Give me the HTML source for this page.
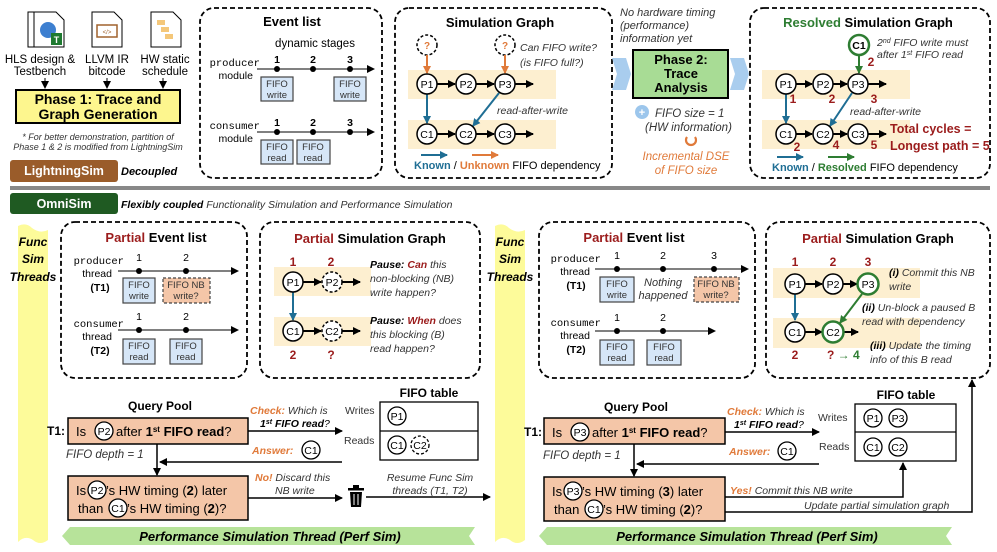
<!DOCTYPE html>
<html><head><meta charset="utf-8"><style>
html,body{margin:0;padding:0;background:#fff}
svg{display:block;font-family:"Liberation Sans",sans-serif}
.m{font-family:"Liberation Mono",monospace}
.i{font-style:italic}.b{font-weight:bold}
.r{fill:#9b1c1c}.o{fill:#e07a3a}.g{fill:#2e7d32}.bl{fill:#1f6e94}
</style></head><body>
<svg width="997" height="552" viewBox="0 0 997 552" xmlns="http://www.w3.org/2000/svg">
<defs>
<marker id="ak" markerWidth="8" markerHeight="8" refX="7" refY="4" orient="auto" markerUnits="userSpaceOnUse"><path d="M0,0L8,4L0,8z" fill="#000"/></marker>
<marker id="ab" markerWidth="8" markerHeight="8" refX="7" refY="4" orient="auto" markerUnits="userSpaceOnUse"><path d="M0,0L8,4L0,8z" fill="#1f6e94"/></marker>
<marker id="ao" markerWidth="8" markerHeight="8" refX="7" refY="4" orient="auto" markerUnits="userSpaceOnUse"><path d="M0,0L8,4L0,8z" fill="#e07a3a"/></marker>
<marker id="ag" markerWidth="8" markerHeight="8" refX="7" refY="4" orient="auto" markerUnits="userSpaceOnUse"><path d="M0,0L8,4L0,8z" fill="#2e7d32"/></marker>
</defs>

<!-- icons -->
<g stroke="#000" stroke-width="1" fill="#fff">
<path d="M28,12h22l8,8v27h-30z"/><path d="M34,12h22l8,8v27h-30z"/>
<path d="M92,12h22l8,8v27h-30z"/>
<path d="M151,12h22l8,8v27h-30z"/>
</g>
<circle cx="48" cy="30" r="8" fill="#3d7fd0"/><rect x="51" y="33" width="11" height="12" fill="#1e7a30"/><text x="56.5" y="43" font-size="9" fill="#fff" text-anchor="middle" class="b">T</text>
<rect x="97" y="25" width="20" height="12" fill="#fff" stroke="#a0622d" stroke-width="1.5"/><text x="107" y="34" font-size="6" text-anchor="middle" fill="#a0622d">&lt;/&gt;</text>
<rect x="157" y="20" width="8" height="5" fill="#f4c77a"/><rect x="161" y="27" width="8" height="5" fill="#f4c77a"/><rect x="165" y="34" width="8" height="5" fill="#f4c77a"/>
<g font-size="11.5" text-anchor="middle">
<text x="40" y="63">HLS design &amp;</text><text x="40" y="75">Testbench</text>
<text x="107" y="63">LLVM IR</text><text x="107" y="75">bitcode</text>
<text x="165" y="63">HW static</text><text x="165" y="75">schedule</text>
</g>
<g stroke="#000" stroke-width="1" marker-end="url(#ak)"><line x1="45" y1="78" x2="45" y2="88"/><line x1="107" y1="78" x2="107" y2="88"/><line x1="163" y1="78" x2="163" y2="88"/></g>
<rect x="16" y="90" width="164" height="33" fill="#fdf68e" stroke="#000" stroke-width="2"/>
<text x="98" y="104" font-size="14" class="b" text-anchor="middle">Phase 1: Trace and</text>
<text x="98" y="119" font-size="14" class="b" text-anchor="middle">Graph Generation</text>
<text x="98" y="140" font-size="9" class="i" text-anchor="middle" fill="#333">* For better demonstration, partition of</text>
<text x="98" y="150" font-size="9" class="i" text-anchor="middle" fill="#333">Phase 1 &amp; 2 is modified from LightningSim</text>
<rect x="10" y="160" width="108" height="22" rx="3" fill="#9a5c2a"/>
<text x="64" y="175" font-size="12.5" class="b" fill="#fff" text-anchor="middle">LightningSim</text>
<text x="121" y="175" font-size="11" class="b i">Decoupled</text>
<rect x="10" y="186" width="980" height="4" fill="#888"/>

<!-- Event list -->
<rect x="200" y="8" width="182" height="170" rx="14" fill="none" stroke="#000" stroke-width="1.8" stroke-dasharray="5,3"/>
<text x="292" y="26" font-size="13" class="b" text-anchor="middle">Event list</text>
<text x="315" y="47" font-size="11.5" text-anchor="middle">dynamic stages</text>
<text x="260" y="66" font-size="10.5" class="m" text-anchor="end">producer</text>
<text x="253" y="79" font-size="10.5" text-anchor="end">module</text>
<text x="260" y="129" font-size="10.5" class="m" text-anchor="end">consumer</text>
<text x="253" y="142" font-size="10.5" text-anchor="end">module</text>
<g stroke="#000" marker-end="url(#ak)"><line x1="257" y1="69" x2="374" y2="69"/><line x1="257" y1="132" x2="374" y2="132"/></g>
<g font-size="10.5" class="b" text-anchor="middle"><text x="277" y="63">1</text><text x="313" y="63">2</text><text x="350" y="63">3</text><text x="277" y="126">1</text><text x="313" y="126">2</text><text x="350" y="126">3</text></g>
<g><circle cx="277" cy="69" r="3"/><circle cx="313" cy="69" r="3"/><circle cx="350" cy="69" r="3"/><circle cx="277" cy="132" r="3"/><circle cx="313" cy="132" r="3"/><circle cx="350" cy="132" r="3"/></g>
<g fill="#d6e6f7" stroke="#444" stroke-width="1.2"><rect x="261" y="77" width="32" height="24"/><rect x="334" y="77" width="32" height="24"/><rect x="261" y="140" width="32" height="24"/><rect x="297" y="140" width="33" height="24"/></g>
<g font-size="9.5" text-anchor="middle" fill="#333"><text x="277" y="87">FIFO</text><text x="277" y="98">write</text><text x="350" y="87">FIFO</text><text x="350" y="98">write</text><text x="277" y="150">FIFO</text><text x="277" y="161">read</text><text x="313" y="150">FIFO</text><text x="313" y="161">read</text></g>

<!-- Simulation Graph -->
<rect x="395" y="8" width="217" height="170" rx="14" fill="none" stroke="#000" stroke-width="1.8" stroke-dasharray="5,3"/>
<text x="500" y="27" font-size="13" class="b" text-anchor="middle">Simulation Graph</text>
<rect x="408" y="70" width="148" height="29" fill="#fdefd0"/><rect x="408" y="120" width="148" height="29" fill="#fdefd0"/>
<g stroke="#000" stroke-width="1.5" fill="none" stroke-dasharray="3,2"><circle cx="427" cy="45" r="10"/><circle cx="505" cy="45" r="10"/></g>
<text x="427" y="49" font-size="10" class="o b" text-anchor="middle">?</text><text x="505" y="49" font-size="10" class="o b" text-anchor="middle">?</text>
<g stroke="#e07a3a" stroke-width="2" marker-end="url(#ao)"><line x1="427" y1="55" x2="427" y2="73"/><line x1="505" y1="55" x2="505" y2="73"/></g>
<text x="520" y="51" font-size="10.5" class="i" fill="#333">Can FIFO write?</text>
<text x="520" y="66" font-size="10.5" class="i" fill="#333">(is FIFO full?)</text>
<g stroke="#000" stroke-width="2" marker-end="url(#ak)"><line x1="437" y1="84" x2="455" y2="84"/><line x1="476" y1="84" x2="494" y2="84"/><line x1="515" y1="84" x2="533" y2="84"/><line x1="437" y1="134" x2="455" y2="134"/><line x1="476" y1="134" x2="494" y2="134"/><line x1="515" y1="134" x2="533" y2="134"/></g>
<g stroke="#1f6e94" stroke-width="2" marker-end="url(#ab)"><line x1="427" y1="94" x2="427" y2="123"/><line x1="499" y1="93" x2="473" y2="126"/></g>
<text x="497" y="114" font-size="10.5" class="i" fill="#333">read-after-write</text>
<g fill="#fff" stroke="#000" stroke-width="1.5"><circle cx="427" cy="84" r="10"/><circle cx="466" cy="84" r="10"/><circle cx="505" cy="84" r="10"/><circle cx="427" cy="134" r="10"/><circle cx="466" cy="134" r="10"/><circle cx="505" cy="134" r="10"/></g>
<g font-size="10.5" text-anchor="middle"><text x="427" y="88">P1</text><text x="466" y="88">P2</text><text x="505" y="88">P3</text><text x="427" y="138">C1</text><text x="466" y="138">C2</text><text x="505" y="138">C3</text></g>
<line x1="421" y1="155" x2="447" y2="155" stroke="#1f6e94" stroke-width="2" marker-end="url(#ab)"/>
<line x1="472" y1="155" x2="498" y2="155" stroke="#e07a3a" stroke-width="2" marker-end="url(#ao)"/>
<text x="414" y="169" font-size="11"><tspan class="b bl">Known</tspan> / <tspan class="b o">Unknown</tspan> FIFO dependency</text>

<!-- middle phase 2 -->
<g font-size="11" class="i" fill="#333"><text x="620" y="16">No hardware timing</text><text x="620" y="29">(performance)</text><text x="620" y="42">information yet</text></g>
<path d="M612,58h14l5,16l-5,16h-14l5,-16z" fill="#a9cdee"/>
<path d="M730,58h14l5,16l-5,16h-14l5,-16z" fill="#a9cdee"/>
<rect x="633" y="50" width="95" height="48" fill="#a8dc95" stroke="#000" stroke-width="2"/>
<g font-size="13" class="b" text-anchor="middle"><text x="681" y="64">Phase 2:</text><text x="681" y="78">Trace</text><text x="681" y="92">Analysis</text></g>
<circle cx="642" cy="112" r="7" fill="#9cc6ec"/><text x="642" y="116" font-size="11" fill="#fff" text-anchor="middle" class="b">+</text>
<text x="655" y="117" font-size="11.5" class="i" fill="#333">FIFO size = 1</text>
<text x="645" y="131" font-size="11.5" class="i" fill="#333">(HW information)</text>
<path d="M687,137a5,5 0 1 0 8,0" fill="none" stroke="#e07a3a" stroke-width="2.2"/>
<text x="686" y="160" font-size="11.5" class="i o" text-anchor="middle">Incremental DSE</text>
<text x="686" y="174" font-size="11.5" class="i o" text-anchor="middle">of FIFO size</text>

<!-- Resolved -->
<rect x="750" y="8" width="240" height="170" rx="14" fill="none" stroke="#000" stroke-width="1.8" stroke-dasharray="5,3"/>
<text x="868" y="27" font-size="13" class="b" text-anchor="middle"><tspan class="g">Resolved</tspan> Simulation Graph</text>
<rect x="762" y="70" width="148" height="29" fill="#fdefd0"/><rect x="762" y="120" width="148" height="29" fill="#fdefd0"/>
<circle cx="859" cy="45" r="10" fill="#fff" stroke="#2e7d32" stroke-width="2.5"/><text x="859" y="49" font-size="10.5" class="b" text-anchor="middle">C1</text>
<line x1="859" y1="55" x2="859" y2="73" stroke="#2e7d32" stroke-width="2" marker-end="url(#ag)"/>
<text x="877" y="46" font-size="10.5" class="i" fill="#333">2<tspan font-size="7" dy="-3">nd</tspan><tspan dy="3"> FIFO write must</tspan></text>
<text x="877" y="58" font-size="10.5" class="i" fill="#333">after 1<tspan font-size="7" dy="-3">st</tspan><tspan dy="3"> FIFO read</tspan></text>
<g stroke="#000" stroke-width="2" marker-end="url(#ak)"><line x1="796" y1="84" x2="812" y2="84"/><line x1="833" y1="84" x2="847" y2="84"/><line x1="868" y1="84" x2="886" y2="84"/><line x1="796" y1="134" x2="812" y2="134"/><line x1="833" y1="134" x2="847" y2="134"/><line x1="868" y1="134" x2="886" y2="134"/></g>
<g stroke="#1f6e94" stroke-width="2" marker-end="url(#ab)"><line x1="786" y1="94" x2="786" y2="123"/><line x1="852" y1="93" x2="830" y2="126"/></g>
<text x="850" y="115" font-size="10.5" class="i" fill="#333">read-after-write</text>
<g fill="#fff" stroke="#000" stroke-width="1.5"><circle cx="786" cy="84" r="10"/><circle cx="823" cy="84" r="10"/><circle cx="858" cy="84" r="10"/><circle cx="786" cy="134" r="10"/><circle cx="823" cy="134" r="10"/><circle cx="858" cy="134" r="10"/></g>
<g font-size="10.5" text-anchor="middle"><text x="786" y="88">P1</text><text x="823" y="88">P2</text><text x="858" y="88">P3</text><text x="786" y="138">C1</text><text x="823" y="138">C2</text><text x="858" y="138">C3</text></g>
<g font-size="12" class="b r" text-anchor="middle"><text x="871" y="66">2</text><text x="793" y="103">1</text><text x="832" y="103">2</text><text x="874" y="103">3</text><text x="797" y="151">2</text><text x="836" y="149">4</text><text x="874" y="149">5</text></g>
<text x="890" y="133" font-size="12.5" class="b r">Total cycles =</text>
<text x="890" y="150" font-size="12.5" class="b r">Longest path = 5</text>
<line x1="777" y1="157" x2="803" y2="157" stroke="#1f6e94" stroke-width="2" marker-end="url(#ab)"/>
<line x1="828" y1="157" x2="854" y2="157" stroke="#2e7d32" stroke-width="2" marker-end="url(#ag)"/>
<text x="772" y="171" font-size="11"><tspan class="b bl">Known</tspan> / <tspan class="b g">Resolved</tspan> FIFO dependency</text>

<!-- OmniSim -->
<rect x="10" y="193" width="108" height="21" rx="3" fill="#1f5a22"/>
<text x="64" y="208" font-size="12.5" class="b" fill="#fff" text-anchor="middle">OmniSim</text>
<text x="121" y="208" font-size="10.5" class="i" fill="#333"><tspan class="b" fill="#000">Flexibly coupled</tspan> Functionality Simulation and Performance Simulation</text>

<!-- yellow strips -->
<path d="M18,226q8,-4 14,2q8,6 16,2v310q-8,6 -15,0q-8,-5 -15,2z" fill="#fdfb9a"/>
<path d="M495,226q8,-4 14,2q8,6 16,2v310q-8,6 -15,0q-8,-5 -15,2z" fill="#fdfb9a"/>
<g font-size="12" class="b i" text-anchor="middle"><text x="33" y="246">Func</text><text x="33" y="263">Sim</text><text x="33" y="281">Threads</text><text x="510" y="246">Func</text><text x="510" y="263">Sim</text><text x="510" y="281">Threads</text></g>

<!-- Left partial event list -->
<rect x="61" y="222" width="186" height="156" rx="14" fill="none" stroke="#000" stroke-width="1.8" stroke-dasharray="5,3"/>
<text x="156" y="242" font-size="13" class="b" text-anchor="middle"><tspan class="r">Partial</tspan> Event list</text>
<text x="124" y="264" font-size="10.5" class="m" text-anchor="end">producer</text>
<text x="112" y="277" font-size="10.5" text-anchor="end">thread</text><text x="100" y="291" font-size="10.5" class="b" text-anchor="middle">(T1)</text>
<text x="124" y="327" font-size="10.5" class="m" text-anchor="end">consumer</text>
<text x="112" y="340" font-size="10.5" text-anchor="end">thread</text><text x="100" y="354" font-size="10.5" class="b" text-anchor="middle">(T2)</text>
<g stroke="#000" marker-end="url(#ak)"><line x1="118" y1="271" x2="238" y2="271"/><line x1="118" y1="330" x2="238" y2="330"/></g>
<g font-size="10.5" text-anchor="middle"><text x="139" y="261">1</text><text x="186" y="261">2</text><text x="139" y="320">1</text><text x="186" y="320">2</text></g>
<circle cx="139" cy="271" r="3"/><circle cx="186" cy="271" r="3"/><circle cx="139" cy="330" r="3"/><circle cx="186" cy="330" r="3"/>
<g fill="#d6e6f7" stroke="#444" stroke-width="1.2"><rect x="123" y="278" width="32" height="25"/><rect x="123" y="339" width="32" height="25"/><rect x="170" y="339" width="32" height="25"/></g>
<rect x="163" y="278" width="47" height="25" fill="#f4c6a8" stroke="#444" stroke-width="1.2" stroke-dasharray="3,2"/>
<g font-size="9.5" text-anchor="middle" fill="#333"><text x="139" y="288">FIFO</text><text x="139" y="299">write</text><text x="186" y="288">FIFO NB</text><text x="186" y="299">write?</text><text x="139" y="349">FIFO</text><text x="139" y="360">read</text><text x="186" y="349">FIFO</text><text x="186" y="360">read</text></g>

<!-- Left partial sim graph -->
<rect x="260" y="222" width="220" height="156" rx="14" fill="none" stroke="#000" stroke-width="1.8" stroke-dasharray="5,3"/>
<text x="370" y="243" font-size="13" class="b" text-anchor="middle"><tspan class="r">Partial</tspan> Simulation Graph</text>
<rect x="274" y="267" width="97" height="29" fill="#fdefd0"/><rect x="274" y="317" width="97" height="29" fill="#fdefd0"/>
<g stroke="#000" stroke-width="2" marker-end="url(#ak)"><line x1="303" y1="282" x2="321" y2="282"/><line x1="342" y1="282" x2="360" y2="282"/><line x1="303" y1="331" x2="321" y2="331"/><line x1="342" y1="331" x2="360" y2="331"/></g>
<line x1="293" y1="292" x2="293" y2="320" stroke="#1f6e94" stroke-width="2" marker-end="url(#ab)"/>
<g fill="#fff" stroke="#000" stroke-width="1.5"><circle cx="293" cy="282" r="10"/><circle cx="293" cy="331" r="10"/><circle cx="332" cy="282" r="10" stroke-dasharray="3,2"/><circle cx="332" cy="331" r="10" stroke-dasharray="3,2"/></g>
<g font-size="10.5" text-anchor="middle"><text x="293" y="286">P1</text><text x="332" y="286">P2</text><text x="293" y="335">C1</text><text x="332" y="335">C2</text></g>
<g font-size="12" class="b r" text-anchor="middle"><text x="293" y="266">1</text><text x="331" y="266">2</text><text x="293" y="359">2</text><text x="331" y="359">?</text></g>
<g font-size="10.5" class="i" fill="#333"><text x="370" y="268"><tspan class="b" fill="#000">Pause: </tspan><tspan class="b r">Can</tspan> this</text><text x="370" y="282">non-blocking (NB)</text><text x="370" y="296">write happen?</text>
<text x="370" y="324"><tspan class="b" fill="#000">Pause: </tspan><tspan class="b r">When</tspan> does</text><text x="370" y="338">this blocking (B)</text><text x="370" y="352">read happen?</text></g>

<!-- Left query pool -->
<text x="160" y="410" font-size="12" class="b" text-anchor="middle">Query Pool</text>
<text x="47" y="435" font-size="12" class="b">T1:</text>
<rect x="68" y="418" width="180" height="26" fill="#f4c6a8" stroke="#000" stroke-width="1.5"/>
<text x="76" y="436" font-size="13">Is</text>
<circle cx="104" cy="431" r="9" fill="#fff" stroke="#000" stroke-width="1.3"/><text x="104" y="435" font-size="10.5" text-anchor="middle">P2</text>
<text x="116" y="436" font-size="13">after <tspan class="b">1<tspan font-size="8" dy="-4">st</tspan><tspan dy="4"> FIFO read</tspan></tspan>?</text>
<text x="66" y="458" font-size="11.5" class="i" fill="#333">FIFO depth = 1</text>
<line x1="157" y1="444" x2="157" y2="475" stroke="#000" stroke-width="1.5" marker-end="url(#ak)"/>
<rect x="68" y="476" width="180" height="44" fill="#f4c6a8" stroke="#000" stroke-width="1.5"/>
<text x="76" y="495" font-size="13">Is</text>
<circle cx="97" cy="490" r="9" fill="#fff" stroke="#000" stroke-width="1.3"/><text x="97" y="494" font-size="10.5" text-anchor="middle">P2</text>
<text x="106" y="495" font-size="13">’s HW timing (<tspan class="b">2</tspan>) later</text>
<text x="78" y="513" font-size="13">than</text>
<circle cx="118" cy="508" r="9" fill="#fff" stroke="#000" stroke-width="1.3"/><text x="118" y="512" font-size="10.5" text-anchor="middle">C1</text>
<text x="127" y="513" font-size="13">’s HW timing (<tspan class="b">2</tspan>)?</text>
<text x="250" y="414" font-size="10.5" class="i" fill="#333"><tspan class="b o">Check:</tspan> Which is</text>
<text x="260" y="427" font-size="10.5" class="i b">1<tspan font-size="7" dy="-3">st</tspan><tspan dy="3"> FIFO read</tspan><tspan font-weight="normal">?</tspan></text>
<line x1="248" y1="431" x2="342" y2="431" stroke="#000" stroke-width="1.5" marker-end="url(#ak)"/>
<text x="252" y="454" font-size="10.5" class="i b o">Answer:</text>
<circle cx="311" cy="450" r="9" fill="#fff" stroke="#000" stroke-width="1.3"/><text x="311" y="454" font-size="10.5" text-anchor="middle">C1</text>
<line x1="342" y1="462" x2="160" y2="462" stroke="#000" stroke-width="1.5" marker-end="url(#ak)"/>
<text x="345" y="414" font-size="10.5" fill="#333">Writes</text><text x="344" y="444" font-size="10.5" fill="#333">Reads</text>
<text x="429" y="397" font-size="12" class="b" text-anchor="middle">FIFO table</text>
<rect x="380" y="402" width="98" height="58" fill="#fff" stroke="#000" stroke-width="1.3"/><line x1="380" y1="431" x2="478" y2="431" stroke="#000" stroke-width="1.3"/>
<g fill="#fff" stroke="#000" stroke-width="1.3"><circle cx="397" cy="416" r="9"/><circle cx="397" cy="445" r="9"/><circle cx="420" cy="445" r="9" stroke-dasharray="3,2"/></g>
<g font-size="10.5" text-anchor="middle"><text x="397" y="420">P1</text><text x="397" y="449">C1</text><text x="420" y="449">C2</text></g>
<text x="255" y="481" font-size="10.5" class="i" fill="#333"><tspan class="b o">No!</tspan> Discard this</text>
<text x="275" y="494" font-size="10.5" class="i" fill="#333">NB write</text>
<line x1="248" y1="498" x2="342" y2="498" stroke="#000" stroke-width="1.5" marker-end="url(#ak)"/>
<rect x="348" y="488" width="16" height="2.5"/><rect x="353" y="485" width="6" height="3"/><path d="M350,492h12l-1,15h-10z"/>
<g stroke="#fff" stroke-width="1"><line x1="354" y1="494" x2="354" y2="505"/><line x1="358" y1="494" x2="358" y2="505"/></g>
<line x1="366" y1="497" x2="490" y2="497" stroke="#000" stroke-width="1.5" marker-end="url(#ak)"/>
<text x="430" y="481" font-size="10.5" class="i" fill="#333" text-anchor="middle">Resume Func Sim</text>
<text x="430" y="494" font-size="10.5" class="i" fill="#333" text-anchor="middle">threads (T1, T2)</text>
<path d="M70,527h405l-6,9l6,9h-405l-8,-9z" fill="#b7e39a"/>
<text x="270" y="541" font-size="13" class="b i" text-anchor="middle">Performance Simulation Thread (Perf Sim)</text>

<!-- Right partial event list -->
<rect x="539" y="222" width="216" height="156" rx="14" fill="none" stroke="#000" stroke-width="1.8" stroke-dasharray="5,3"/>
<text x="634" y="242" font-size="13" class="b" text-anchor="middle"><tspan class="r">Partial</tspan> Event list</text>
<text x="601" y="262" font-size="10.5" class="m" text-anchor="end">producer</text>
<text x="590" y="275" font-size="10.5" text-anchor="end">thread</text><text x="576" y="289" font-size="10.5" class="b" text-anchor="middle">(T1)</text>
<text x="601" y="326" font-size="10.5" class="m" text-anchor="end">consumer</text>
<text x="590" y="339" font-size="10.5" text-anchor="end">thread</text><text x="576" y="353" font-size="10.5" class="b" text-anchor="middle">(T2)</text>
<g stroke="#000" marker-end="url(#ak)"><line x1="595" y1="269" x2="748" y2="269"/><line x1="595" y1="331" x2="715" y2="331"/></g>
<g font-size="10.5" text-anchor="middle"><text x="617" y="259">1</text><text x="663" y="259">2</text><text x="714" y="259">3</text><text x="617" y="321">1</text><text x="663" y="321">2</text></g>
<circle cx="617" cy="269" r="3"/><circle cx="663" cy="269" r="3"/><circle cx="714" cy="269" r="3"/><circle cx="617" cy="331" r="3"/><circle cx="663" cy="331" r="3"/>
<g fill="#d6e6f7" stroke="#444" stroke-width="1.2"><rect x="600" y="277" width="34" height="25"/><rect x="600" y="340" width="34" height="25"/><rect x="647" y="340" width="34" height="25"/></g>
<rect x="694" y="277" width="45" height="25" fill="#f4c6a8" stroke="#444" stroke-width="1.2" stroke-dasharray="3,2"/>
<g font-size="9.5" text-anchor="middle" fill="#333"><text x="617" y="287">FIFO</text><text x="617" y="298">write</text><text x="716" y="287">FIFO NB</text><text x="716" y="298">write?</text><text x="617" y="350">FIFO</text><text x="617" y="361">read</text><text x="664" y="350">FIFO</text><text x="664" y="361">read</text></g>
<text x="663" y="286" font-size="11" class="i" fill="#333" text-anchor="middle">Nothing</text>
<text x="663" y="299" font-size="11" class="i" fill="#333" text-anchor="middle">happened</text>

<!-- Right partial sim graph -->
<rect x="766" y="222" width="224" height="156" rx="14" fill="none" stroke="#000" stroke-width="1.8" stroke-dasharray="5,3"/>
<text x="878" y="243" font-size="13" class="b" text-anchor="middle"><tspan class="r">Partial</tspan> Simulation Graph</text>
<rect x="773" y="268" width="147" height="30" fill="#fdefd0"/><rect x="773" y="318" width="147" height="30" fill="#fdefd0"/>
<g stroke="#000" stroke-width="2" marker-end="url(#ak)"><line x1="805" y1="284" x2="822" y2="284"/><line x1="843" y1="284" x2="857" y2="284"/><line x1="805" y1="332" x2="822" y2="332"/><line x1="843" y1="332" x2="858" y2="332"/></g>
<line x1="795" y1="294" x2="795" y2="320" stroke="#1f6e94" stroke-width="2" marker-end="url(#ab)"/>
<line x1="862" y1="294" x2="840" y2="323" stroke="#2e7d32" stroke-width="2" marker-end="url(#ag)"/>
<g fill="#fff" stroke="#000" stroke-width="1.5"><circle cx="795" cy="284" r="10"/><circle cx="833" cy="284" r="10"/><circle cx="795" cy="332" r="10"/></g>
<g fill="#fff" stroke="#2e7d32" stroke-width="2.5"><circle cx="868" cy="284" r="10.5"/><circle cx="833" cy="332" r="10.5"/></g>
<g font-size="10.5" text-anchor="middle"><text x="795" y="288">P1</text><text x="833" y="288">P2</text><text x="868" y="288">P3</text><text x="795" y="336">C1</text><text x="833" y="336">C2</text></g>
<g font-size="12" class="b r" text-anchor="middle"><text x="795" y="266">1</text><text x="833" y="266">2</text><text x="868" y="266">3</text><text x="795" y="359">2</text></g>
<text x="827" y="359" font-size="12" class="b"><tspan class="r">?</tspan><tspan class="g"> → 4</tspan></text>
<g font-size="10.5" class="i" fill="#333"><text x="889" y="276"><tspan class="b" fill="#000">(i)</tspan> Commit this NB</text><text x="889" y="290">write</text>
<text x="862" y="311"><tspan class="b" fill="#000">(ii)</tspan> Un-block a paused B</text><text x="862" y="325">read with dependency</text>
<text x="870" y="349"><tspan class="b" fill="#000">(iii)</tspan> Update the timing</text><text x="870" y="363">info of this B read</text></g>

<!-- Right query pool -->
<text x="636" y="411" font-size="12" class="b" text-anchor="middle">Query Pool</text>
<text x="524" y="436" font-size="12" class="b">T1:</text>
<rect x="544" y="418" width="181" height="26" fill="#f4c6a8" stroke="#000" stroke-width="1.5"/>
<text x="552" y="437" font-size="13">Is</text>
<circle cx="580" cy="432" r="9" fill="#fff" stroke="#000" stroke-width="1.3"/><text x="580" y="436" font-size="10.5" text-anchor="middle">P3</text>
<text x="592" y="437" font-size="13">after <tspan class="b">1<tspan font-size="8" dy="-4">st</tspan><tspan dy="4"> FIFO read</tspan></tspan>?</text>
<text x="543" y="459" font-size="11.5" class="i" fill="#333">FIFO depth = 1</text>
<line x1="634" y1="444" x2="634" y2="476" stroke="#000" stroke-width="1.5" marker-end="url(#ak)"/>
<rect x="544" y="477" width="181" height="44" fill="#f4c6a8" stroke="#000" stroke-width="1.5"/>
<text x="552" y="496" font-size="13">Is</text>
<circle cx="573" cy="491" r="9" fill="#fff" stroke="#000" stroke-width="1.3"/><text x="573" y="495" font-size="10.5" text-anchor="middle">P3</text>
<text x="582" y="496" font-size="13">’s HW timing (<tspan class="b">3</tspan>) later</text>
<text x="554" y="514" font-size="13">than</text>
<circle cx="594" cy="509" r="9" fill="#fff" stroke="#000" stroke-width="1.3"/><text x="594" y="513" font-size="10.5" text-anchor="middle">C1</text>
<text x="603" y="514" font-size="13">’s HW timing (<tspan class="b">2</tspan>)?</text>
<text x="727" y="415" font-size="10.5" class="i" fill="#333"><tspan class="b o">Check:</tspan> Which is</text>
<text x="734" y="428" font-size="10.5" class="i b">1<tspan font-size="7" dy="-3">st</tspan><tspan dy="3"> FIFO read</tspan><tspan font-weight="normal">?</tspan></text>
<line x1="725" y1="432" x2="819" y2="432" stroke="#000" stroke-width="1.5" marker-end="url(#ak)"/>
<text x="729" y="455" font-size="10.5" class="i b o">Answer:</text>
<circle cx="787" cy="451" r="9" fill="#fff" stroke="#000" stroke-width="1.3"/><text x="787" y="455" font-size="10.5" text-anchor="middle">C1</text>
<line x1="819" y1="464" x2="637" y2="464" stroke="#000" stroke-width="1.5" marker-end="url(#ak)"/>
<text x="818" y="421" font-size="10.5" fill="#333">Writes</text><text x="819" y="450" font-size="10.5" fill="#333">Reads</text>
<text x="906" y="399" font-size="12" class="b" text-anchor="middle">FIFO table</text>
<rect x="855" y="404" width="101" height="57" fill="#fff" stroke="#000" stroke-width="1.3"/><line x1="855" y1="432" x2="956" y2="432" stroke="#000" stroke-width="1.3"/>
<g fill="#fff" stroke="#000" stroke-width="1.3"><circle cx="873" cy="418" r="9"/><circle cx="898" cy="418" r="9"/><circle cx="873" cy="447" r="9"/><circle cx="898" cy="447" r="9"/></g>
<g font-size="10.5" text-anchor="middle"><text x="873" y="422">P1</text><text x="898" y="422">P3</text><text x="873" y="451">C1</text><text x="898" y="451">C2</text></g>
<text x="730" y="494" font-size="10.5" class="i" fill="#333"><tspan class="b o">Yes!</tspan> Commit this NB write</text>
<path d="M725,497h178v-34" fill="none" stroke="#000" stroke-width="1.5" marker-end="url(#ak)"/>
<text x="804" y="509" font-size="10.5" class="i" fill="#333">Update partial simulation graph</text>
<path d="M725,512h247v-132" fill="none" stroke="#000" stroke-width="1.5" marker-end="url(#ak)"/>
<path d="M547,527h405l-6,9l6,9h-405l-8,-9z" fill="#b7e39a"/>
<text x="747" y="541" font-size="13" class="b i" text-anchor="middle">Performance Simulation Thread (Perf Sim)</text>
</svg>
</body></html>
